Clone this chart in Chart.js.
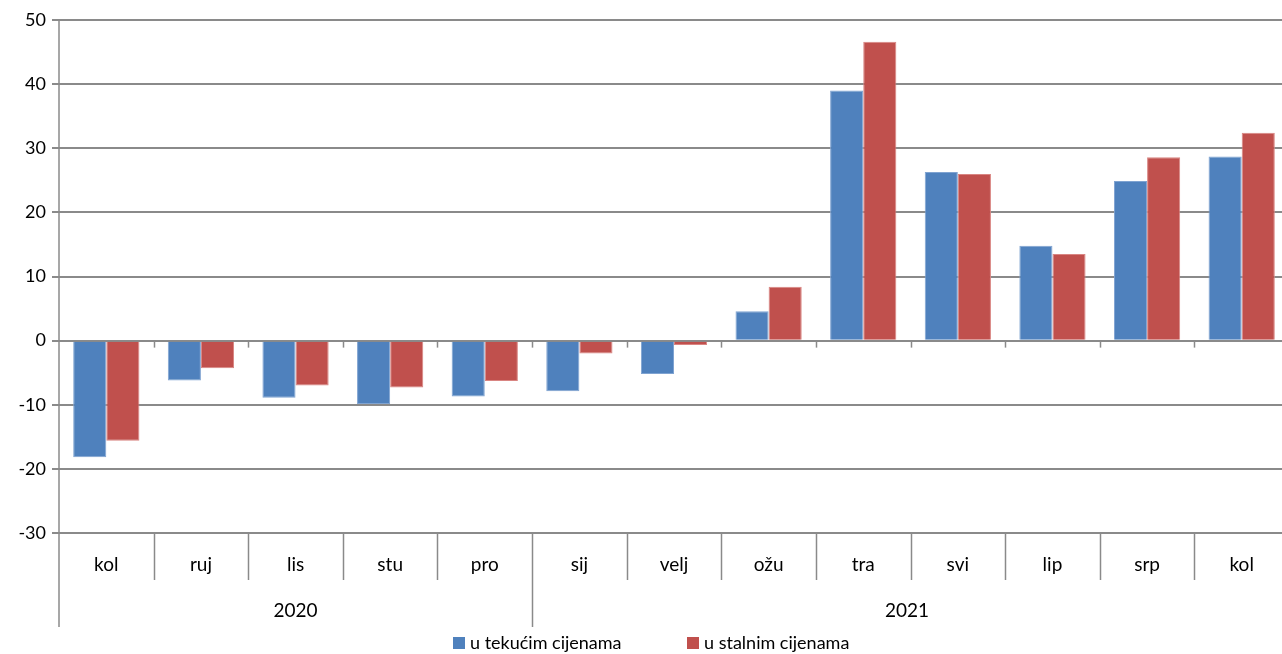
<!DOCTYPE html>
<html>
<head>
<meta charset="utf-8">
<script src="https://cdn.jsdelivr.net/npm/chart.js@4/dist/chart.umd.min.js"></script>
<style>
    html, body { margin: 0; padding: 0; background: #fff; overflow: hidden; }
    #clip { width: 1282px; height: 654px; overflow: hidden; }
    #wrap { width: 1289px; height: 654px; position: relative; }
    canvas { display: block; }
</style>
</head>
<body>
<div id="clip"><div id="wrap"><canvas id="chart"></canvas></div></div>
<script>
const months = ['kol', 'ruj', 'lis', 'stu', 'pro', 'sij', 'velj', 'ožu', 'tra', 'svi', 'lip', 'srp', 'kol'];
const yearLabels = ['2020', '2021'];
const yearSpans = [5, 8];
const tekuce = [-18.2, -6.2, -8.9, -9.9, -8.7, -7.9, -5.2, 4.6, 39.0, 26.3, 14.8, 24.9, 28.7];
const stalne = [-15.6, -4.3, -7.0, -7.3, -6.3, -2.0, -0.7, 8.4, 46.6, 26.0, 13.5, 28.6, 32.4];
const seriesNames = ['u tekućim cijenama', 'u stalnim cijenama'];
const yTicks = [-30, -20, -10, 0, 10, 20, 30, 40, 50];

const BLUE = '#4F81BD';
const RED = '#C0504D';
const GRID = '#8a8a8a';
const FONT = 'Lato, "Open Sans", sans-serif';

// month / year table under the plot, zero-line ticks, legend
const tablePlugin = {
    id: 'tablePlugin',
    afterDraw(chart) {
        const ctx = chart.ctx;
        const x = chart.scales.x;
        const y = chart.scales.y;
        const area = chart.chartArea;
        const step = (area.right - area.left) / months.length;
        const y0 = y.getPixelForValue(0);
        const rowTop = area.bottom;
        const rowMid = rowTop + 47;
        const rowEnd = rowTop + 94;

        ctx.save();
        ctx.strokeStyle = GRID;
        ctx.lineWidth = 1.5;

        // y axis line, running down through the label rows
        ctx.beginPath();
        ctx.moveTo(area.left, area.top);
        ctx.lineTo(area.left, rowEnd);
        ctx.stroke();

        // small ticks under the zero line
        for (let i = 1; i < months.length; i++) {
            const px = Math.round(area.left + i * step) + 0.5;
            ctx.beginPath();
            ctx.moveTo(px, y0);
            ctx.lineTo(px, y0 + 7);
            ctx.stroke();
        }

        // month separators
        let boundary = yearSpans[0];
        for (let i = 1; i < months.length; i++) {
            const px = Math.round(area.left + i * step) + 0.5;
            ctx.beginPath();
            ctx.moveTo(px, rowTop);
            ctx.lineTo(px, i === boundary ? rowEnd : rowMid);
            ctx.stroke();
        }

        ctx.fillStyle = '#000';
        ctx.font = '19px ' + FONT;
        ctx.textAlign = 'center';
        ctx.textBaseline = 'middle';
        months.forEach((m, i) => {
            ctx.fillText(m, x.getPixelForValue(i), rowTop + 32);
        });

        let start = 0;
        yearLabels.forEach((label, k) => {
            const end = start + yearSpans[k];
            const left = area.left + start * step;
            const right = Math.min(area.left + end * step, 1282);
            ctx.fillText(label, (left + right) / 2, rowTop + 78);
            start = end;
        });

        // legend
        ctx.font = '18px ' + FONT;
        ctx.textAlign = 'left';
        const ly = 643;
        const items = [
            { color: BLUE, text: seriesNames[0], x: 453 },
            { color: RED, text: seriesNames[1], x: 687 }
        ];
        items.forEach(it => {
            ctx.fillStyle = it.color;
            ctx.fillRect(it.x, ly - 6, 12, 12);
            ctx.fillStyle = '#000';
            ctx.fillText(it.text, it.x + 17, ly);
        });
        ctx.restore();
    }
};

new Chart(document.getElementById('chart').getContext('2d'), {
    type: 'bar',
    data: {
        labels: months,
        datasets: [
            {
                label: seriesNames[0],
                data: tekuce,
                backgroundColor: BLUE,
                borderColor: '#7FA3D1',
                borderWidth: 1,
                categoryPercentage: 0.7,
                barPercentage: 1.0
            },
            {
                label: seriesNames[1],
                data: stalne,
                backgroundColor: RED,
                borderColor: '#D98582',
                borderWidth: 1,
                categoryPercentage: 0.7,
                barPercentage: 1.0
            }
        ]
    },
    options: {
        responsive: true,
        maintainAspectRatio: false,
        animation: false,
        layout: {
            padding: { top: 20, right: 0, bottom: 121, left: 0 }
        },
        plugins: {
            legend: { display: false },
            tooltip: { enabled: false }
        },
        scales: {
            x: {
                display: false
            },
            y: {
                min: -30,
                max: 50,
                afterBuildTicks: (scale) => {
                    scale.ticks = yTicks.map(v => ({ value: v }));
                },
                afterFit: (scale) => {
                    scale.width = 59;
                },
                border: { display: false },
                grid: {
                    color: GRID,
                    lineWidth: 2,
                    drawTicks: true,
                    tickLength: 7,
                    tickColor: GRID
                },
                ticks: {
                    color: '#000',
                    padding: 6,
                    font: { size: 18, family: FONT }
                }
            }
        }
    },
    plugins: [tablePlugin]
});
</script>
</body>
</html>
